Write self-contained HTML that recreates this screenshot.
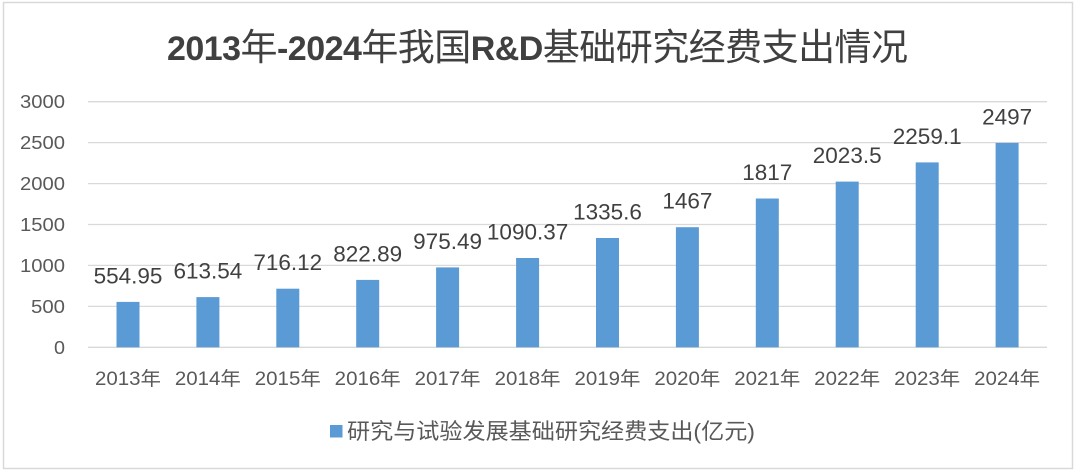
<!DOCTYPE html>
<html><head><meta charset="utf-8"><style>
html,body{margin:0;padding:0;background:#fff;}
svg{display:block;}
text{font-family:"Liberation Sans","Noto Sans CJK SC",sans-serif;}
</style></head><body>
<svg width="1080" height="473" viewBox="0 0 1080 473" xmlns="http://www.w3.org/2000/svg">
<rect x="0" y="0" width="1080" height="473" fill="#fff"/>
<rect x="3.5" y="2.5" width="1069" height="466" fill="#fff" stroke="#d9d9d9" stroke-width="1.5"/>
<text x="167" y="60" textLength="741" lengthAdjust="spacing" fill="#404040"><tspan font-weight="bold" font-size="34">2013</tspan><tspan font-size="37">年</tspan><tspan font-weight="bold" font-size="34">-2024</tspan><tspan font-size="37">年我国</tspan><tspan font-weight="bold" font-size="34">R&amp;D</tspan><tspan font-size="37">基础研究经费支出情况</tspan></text>
<g stroke="#d9d9d9" stroke-width="1.3">
<line x1="88" y1="101.7" x2="1047" y2="101.7"/>
<line x1="88" y1="142.6" x2="1047" y2="142.6"/>
<line x1="88" y1="183.6" x2="1047" y2="183.6"/>
<line x1="88" y1="224.5" x2="1047" y2="224.5"/>
<line x1="88" y1="265.4" x2="1047" y2="265.4"/>
<line x1="88" y1="306.4" x2="1047" y2="306.4"/>
<line x1="88" y1="347.3" x2="1047" y2="347.3"/>
</g>
<g fill="#595959" font-size="18.5" text-anchor="end">
<text x="65" y="108" textLength="45" lengthAdjust="spacingAndGlyphs">3000</text>
<text x="65" y="149" textLength="45" lengthAdjust="spacingAndGlyphs">2500</text>
<text x="65" y="190" textLength="45" lengthAdjust="spacingAndGlyphs">2000</text>
<text x="65" y="231" textLength="45" lengthAdjust="spacingAndGlyphs">1500</text>
<text x="65" y="272" textLength="45" lengthAdjust="spacingAndGlyphs">1000</text>
<text x="65" y="313" textLength="34" lengthAdjust="spacingAndGlyphs">500</text>
<text x="65" y="354" textLength="11" lengthAdjust="spacingAndGlyphs">0</text>
</g>
<g fill="#5b9bd5">
<rect x="116.5" y="301.9" width="23" height="45.4"/>
<rect x="196.4" y="297.1" width="23" height="50.2"/>
<rect x="276.3" y="288.7" width="23" height="58.6"/>
<rect x="356.2" y="279.9" width="23" height="67.4"/>
<rect x="436.1" y="267.4" width="23" height="79.9"/>
<rect x="516.1" y="258.0" width="23" height="89.3"/>
<rect x="596.0" y="238.0" width="23" height="109.3"/>
<rect x="675.9" y="227.2" width="23" height="120.1"/>
<rect x="755.8" y="198.5" width="23" height="148.8"/>
<rect x="835.7" y="181.6" width="23" height="165.7"/>
<rect x="915.7" y="162.4" width="23" height="184.9"/>
<rect x="995.6" y="142.9" width="23" height="204.4"/>
</g>
<g fill="#404040" font-size="22.5" text-anchor="middle">
<text x="128.0" y="283.4">554.95</text>
<text x="207.9" y="278.6">613.54</text>
<text x="287.8" y="270.2">716.12</text>
<text x="367.7" y="261.4">822.89</text>
<text x="447.6" y="248.9">975.49</text>
<text x="527.6" y="239.5">1090.37</text>
<text x="607.5" y="219.5">1335.6</text>
<text x="687.4" y="208.7">1467</text>
<text x="767.3" y="180.0">1817</text>
<text x="847.2" y="163.1">2023.5</text>
<text x="927.2" y="143.9">2259.1</text>
<text x="1007.1" y="124.4">2497</text>
</g>
<g fill="#595959" font-size="19" text-anchor="middle">
<text x="128.0" y="385" textLength="66" lengthAdjust="spacingAndGlyphs">2013年</text>
<text x="207.9" y="385" textLength="66" lengthAdjust="spacingAndGlyphs">2014年</text>
<text x="287.8" y="385" textLength="66" lengthAdjust="spacingAndGlyphs">2015年</text>
<text x="367.7" y="385" textLength="66" lengthAdjust="spacingAndGlyphs">2016年</text>
<text x="447.6" y="385" textLength="66" lengthAdjust="spacingAndGlyphs">2017年</text>
<text x="527.6" y="385" textLength="66" lengthAdjust="spacingAndGlyphs">2018年</text>
<text x="607.5" y="385" textLength="66" lengthAdjust="spacingAndGlyphs">2019年</text>
<text x="687.4" y="385" textLength="66" lengthAdjust="spacingAndGlyphs">2020年</text>
<text x="767.3" y="385" textLength="66" lengthAdjust="spacingAndGlyphs">2021年</text>
<text x="847.2" y="385" textLength="66" lengthAdjust="spacingAndGlyphs">2022年</text>
<text x="927.2" y="385" textLength="66" lengthAdjust="spacingAndGlyphs">2023年</text>
<text x="1007.1" y="385" textLength="66" lengthAdjust="spacingAndGlyphs">2024年</text>
</g>
<rect x="330" y="425" width="12.5" height="12.5" fill="#5b9bd5"/>
<text x="347" y="439" font-size="22" fill="#595959" textLength="408" lengthAdjust="spacingAndGlyphs">研究与试验发展基础研究经费支出(亿元)</text>
</svg>
</body></html>
